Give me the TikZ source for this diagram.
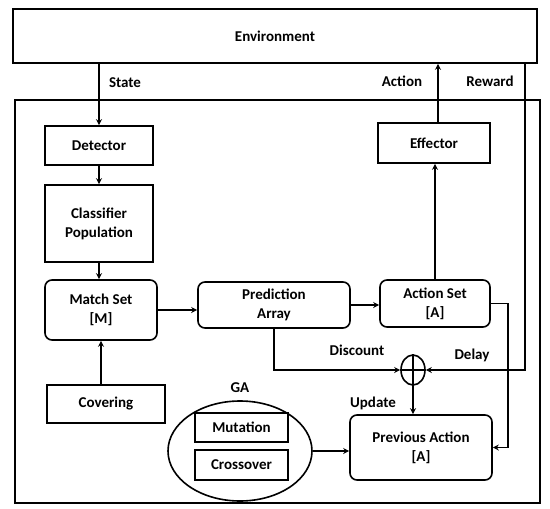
\documentclass[tikz,border=0pt]{standalone}
\usepackage{fontspec}
\setmainfont{Carlito}
\usetikzlibrary{arrows.meta,shapes.geometric}
\begin{document}
\begin{tikzpicture}[x=1pt,y=-1pt,
  font=\bfseries\fontsize{15}{19}\selectfont,
  line width=1.6pt,
  sqbox/.style={draw,rectangle,align=center,inner sep=0pt},
  rbox/.style={draw,rectangle,rounded corners=7pt,align=center,inner sep=0pt},
  arr/.style={-{Stealth[length=6pt,width=6pt]}},
  lbl/.style={inner sep=1pt}]
\useasboundingbox (0,0) rectangle (550,509);
\node[sqbox,minimum width=524pt,minimum height=54pt] (env) at (275,36) {Environment};
\node[draw,rectangle,minimum width=525pt,minimum height=403pt] (outer) at (277.5,301.5) {};
\node[sqbox,minimum width=108pt,minimum height=39pt] (det) at (99,145.5) {Detector};
\node[sqbox,minimum width=108pt,minimum height=77pt] (cp) at (99,223.5) {Classifier\\Population};
\node[rbox,minimum width=112pt,minimum height=60pt] (ms) at (101,310) {Match Set\\{[M]}};
\node[sqbox,minimum width=118pt,minimum height=38pt] (cov) at (106,404) {Covering};
\node[rbox,minimum width=152pt,minimum height=46pt] (pa) at (274,305) {Prediction\\Array};
\node[rbox,minimum width=110pt,minimum height=47pt] (as) at (435,303.5) {Action Set\\{[A]}};
\node[sqbox,minimum width=112pt,minimum height=40pt] (eff) at (434,143) {Effector};
\node[rbox,minimum width=142pt,minimum height=65pt] (prev) at (421,447.5) {Previous Action\\{[A]}};
\node[draw,ellipse,minimum width=144pt,minimum height=100pt,inner sep=0pt] (ga) at (240,451) {};
\node[sqbox,minimum width=93pt,minimum height=29pt] (mut) at (241.5,427.5) {Mutation};
\node[sqbox,minimum width=93pt,minimum height=30pt] (cro) at (241.5,465) {Crossover};
\node[draw,ellipse,minimum width=24pt,minimum height=30pt,inner sep=0pt] (sum) at (413,370) {};
\draw (sum.north) -- (sum.south);
\draw (sum.west) -- (sum.east);
\coordinate (rwc) at (525,370);
% labels
\node[lbl] (lstate) at (125,83) {State};
\node[lbl] (laction) at (402,81) {Action};
\node[lbl] (lreward) at (490,81) {Reward};
\node[lbl] (ldisc) at (357,350) {Discount};
\node[lbl] (ldelay) at (472,355) {Delay};
\node[lbl] (lupd) at (373,403) {Update};
\node[lbl] (lga) at (240,388) {GA};
% connectors
\draw[arr] (det.north |- env.south) -- (det.north);
\draw[arr] (det.south) -- (cp.north);
\draw[arr] (cp.south) -- (cp.south |- ms.north);
\draw[arr] (cov.north -| ms.south) -- (ms.south);
\draw[arr] (ms.east) -- (ms.east -| pa.west);
\draw[arr] (pa.east) -- (pa.east -| as.west);
\draw[arr] (as.north) -- (as.north |- eff.south);
\draw[arr] (eff.north -| 438,0) -- (env.south -| 438,0);
\draw[arr] (env.south -| rwc) -- (rwc) -- (sum.east);
\draw[arr] (pa.south) |- (sum.west);
\draw[arr] (sum.south) -- (sum.south |- prev.north);
\draw[arr] (as.east) -- ++(17,0) |- (prev.east);
\draw[arr] (ga.east) -- (ga.east -| prev.west);
\end{tikzpicture}
\end{document}
